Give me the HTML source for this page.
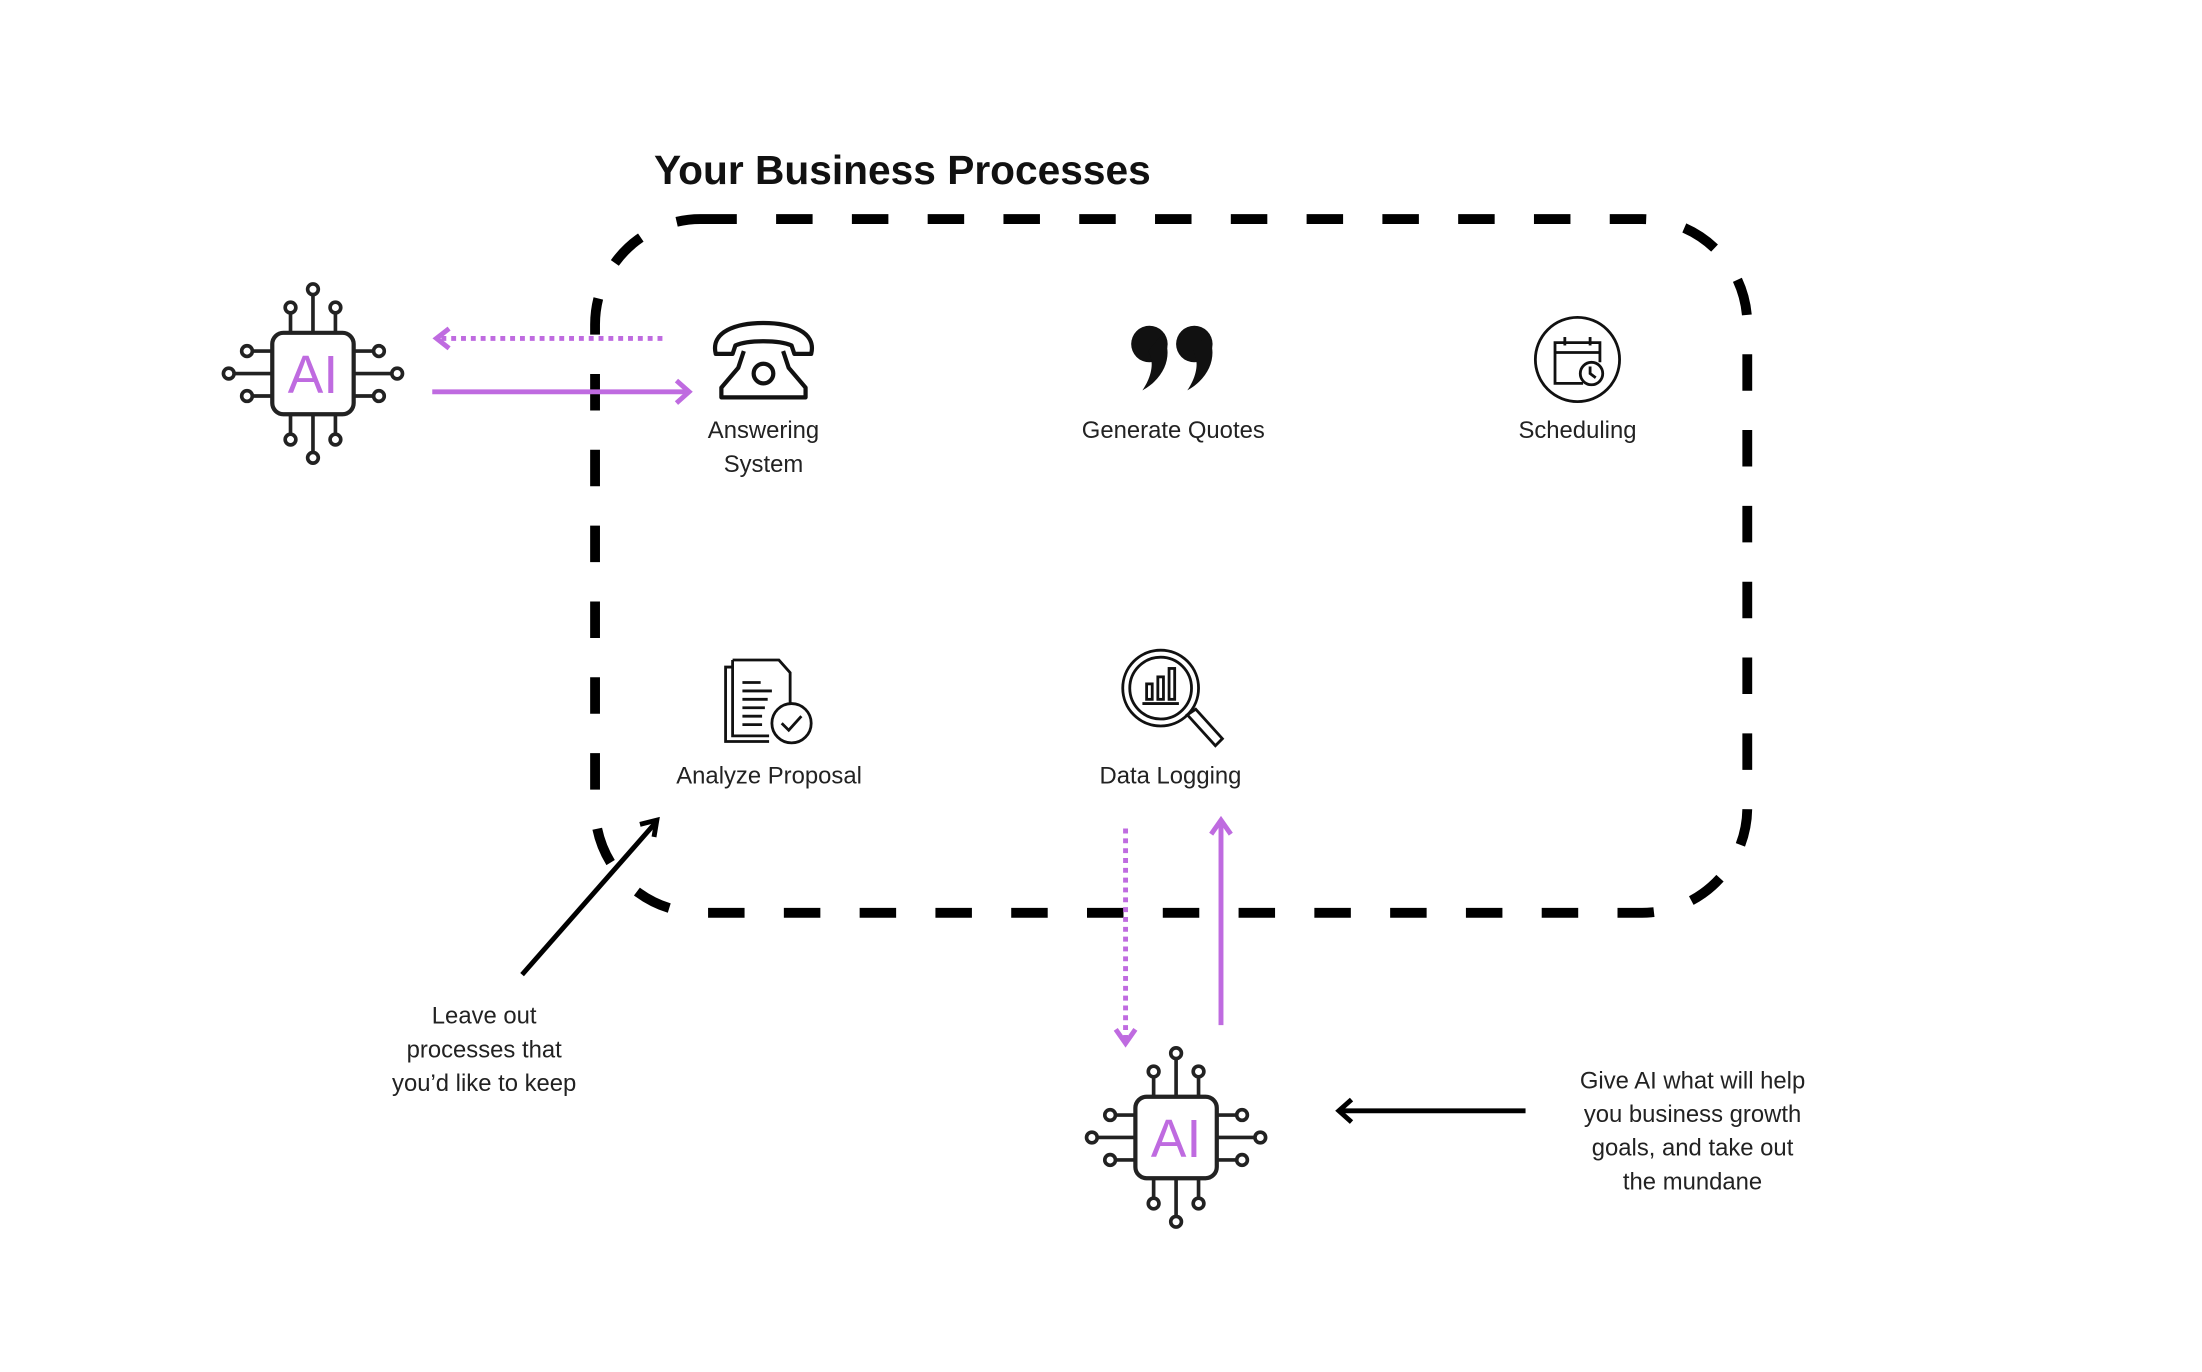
<!DOCTYPE html>
<html><head><meta charset="utf-8"><style>
html,body{margin:0;padding:0;background:#fff;}
svg{display:block;}
text{font-family:"Liberation Sans",sans-serif;}
</style></head><body>
<svg width="2202" height="1372" viewBox="0 0 1569 977" preserveAspectRatio="none" xmlns="http://www.w3.org/2000/svg">
<defs>
<g id="chip">
  <g stroke="#222" stroke-width="2.6" fill="none">
    <line x1="0" y1="-29" x2="0" y2="-56"/><line x1="-16" y1="-29" x2="-16" y2="-43"/><line x1="16" y1="-29" x2="16" y2="-43"/>
    <line x1="0" y1="29" x2="0" y2="56"/><line x1="-16" y1="29" x2="-16" y2="43"/><line x1="16" y1="29" x2="16" y2="43"/>
    <line y1="0" x1="-29" y2="0" x2="-56"/><line y1="-16" x1="-29" y2="-16" x2="-43"/><line y1="16" x1="-29" y2="16" x2="-43"/>
    <line y1="0" x1="29" y2="0" x2="56"/><line y1="-16" x1="29" y2="-16" x2="43"/><line y1="16" x1="29" y2="16" x2="43"/>
    <circle cx="0" cy="-60" r="3.8" fill="#fff"/><circle cx="-16" cy="-47" r="3.8" fill="#fff"/><circle cx="16" cy="-47" r="3.8" fill="#fff"/>
    <circle cx="0" cy="60" r="3.8" fill="#fff"/><circle cx="-16" cy="47" r="3.8" fill="#fff"/><circle cx="16" cy="47" r="3.8" fill="#fff"/>
    <circle cy="0" cx="-60" r="3.8" fill="#fff"/><circle cy="-16" cx="-47" r="3.8" fill="#fff"/><circle cy="16" cx="-47" r="3.8" fill="#fff"/>
    <circle cy="0" cx="60" r="3.8" fill="#fff"/><circle cy="-16" cx="47" r="3.8" fill="#fff"/><circle cy="16" cx="47" r="3.8" fill="#fff"/>
    <rect x="-29" y="-29" width="58" height="58" rx="8" fill="#fff" stroke-width="3"/>
  </g>
  <text x="0" y="14" text-anchor="middle" font-size="38" fill="#BF6BE0">AI</text>
</g>
</defs>

<text x="466" y="131" font-size="29" font-weight="bold" fill="#111">Your Business Processes</text>

<rect x="424" y="156" width="821" height="494" rx="75" fill="none" stroke="#000" stroke-width="7" stroke-dasharray="26 28"/>

<use href="#chip" x="223" y="266"/>
<use href="#chip" x="838" y="810"/>

<g stroke="#BF6BE0" stroke-width="3.5" fill="none">
  <line x1="472" y1="241" x2="314" y2="241" stroke-dasharray="3.5 3.5"/>
  <polyline points="320,234 311,241 320,248"/>
  <line x1="308" y1="279" x2="490" y2="279"/>
  <polyline points="482,271 491,279 482,287"/>
  <line x1="802" y1="590" x2="802" y2="740" stroke-dasharray="3.5 3.5"/>
  <polyline points="795,733 802,743 809,733"/>
  <line x1="870" y1="730" x2="870" y2="586"/>
  <polyline points="863,594 870,584 877,594"/>
</g>

<g stroke="#000" stroke-width="3.5" fill="none">
  <line x1="372" y1="694" x2="467" y2="586"/>
  <polyline points="456,587 468,584 466,596"/>
  <line x1="1087" y1="791" x2="955" y2="791"/>
  <polyline points="963,783 954,791 963,799"/>
</g>

<g stroke="#111" stroke-width="3" fill="none" stroke-linejoin="round">
  <path d="M510,252 C506,236 525,230 544,230 C563,230 582,236 578,252 L566,252 L564,246 C555,242 533,242 524,246 L522,252 Z"/>
  <path d="M530,250 L526,262 L514,276 L514,283 L574,283 L574,276 L562,262 L558,250"/>
  <circle cx="544" cy="266" r="7"/>
</g>

<g fill="#111">
  <circle cx="819" cy="245" r="13"/>
  <path d="M828,238 C836,250 832,268 814,278 C822,266 822,256 818,250 Z"/>
  <circle cx="851" cy="245" r="13"/>
  <path d="M860,238 C868,250 864,268 846,278 C854,266 854,256 850,250 Z"/>
</g>

<g stroke="#111" stroke-width="2" fill="none">
  <circle cx="1124" cy="256" r="30"/>
  <path d="M1128,273 L1108,273 L1108,244 L1140,244 L1140,258"/>
  <line x1="1108" y1="251" x2="1140" y2="251"/>
  <line x1="1115" y1="240" x2="1115" y2="246"/><line x1="1133" y1="240" x2="1133" y2="246"/>
  <circle cx="1134" cy="266" r="8" fill="#fff"/>
  <polyline points="1133,261 1133,266 1137,269"/>
</g>

<g stroke="#111" stroke-width="2" fill="none">
  <path d="M522,475 L517,475 L517,528 L548,528"/>
  <path d="M522,470 L555,470 L563,479 L563,502 M548,524 L522,524 L522,470"/>
  <line x1="529" y1="486" x2="542" y2="486"/><line x1="529" y1="492" x2="550" y2="492"/>
  <line x1="529" y1="498" x2="547" y2="498"/><line x1="529" y1="504" x2="545" y2="504"/>
  <line x1="529" y1="510" x2="543" y2="510"/><line x1="529" y1="516" x2="543" y2="516"/>
  <circle cx="564" cy="515" r="14" fill="#fff"/>
  <polyline points="557,515 562,520 571,510"/>
</g>

<g stroke="#111" stroke-width="2" fill="none">
  <circle cx="827" cy="490" r="27"/>
  <circle cx="827" cy="490" r="22"/>
  <rect x="817" y="487" width="4" height="11"/><rect x="825" y="482" width="4" height="16"/><rect x="833" y="476" width="4" height="22"/>
  <line x1="814" y1="501" x2="840" y2="501"/>
  <path d="M846,509 L852,505 L871,526 L866,531 Z"/>
</g>

<g font-size="17" fill="#222" text-anchor="middle">
  <text x="544" y="312">Answering</text>
  <text x="544" y="336">System</text>
  <text x="836" y="312">Generate Quotes</text>
  <text x="1124" y="312">Scheduling</text>
  <text x="548" y="558">Analyze Proposal</text>
  <text x="834" y="558">Data Logging</text>
  <text x="345" y="729">Leave out</text>
  <text x="345" y="753">processes that</text>
  <text x="345" y="777">you’d like to keep</text>
  <text x="1206" y="775">Give AI what will help</text>
  <text x="1206" y="799">you business growth</text>
  <text x="1206" y="823">goals, and take out</text>
  <text x="1206" y="847">the mundane</text>
</g>
</svg>
</body></html>
